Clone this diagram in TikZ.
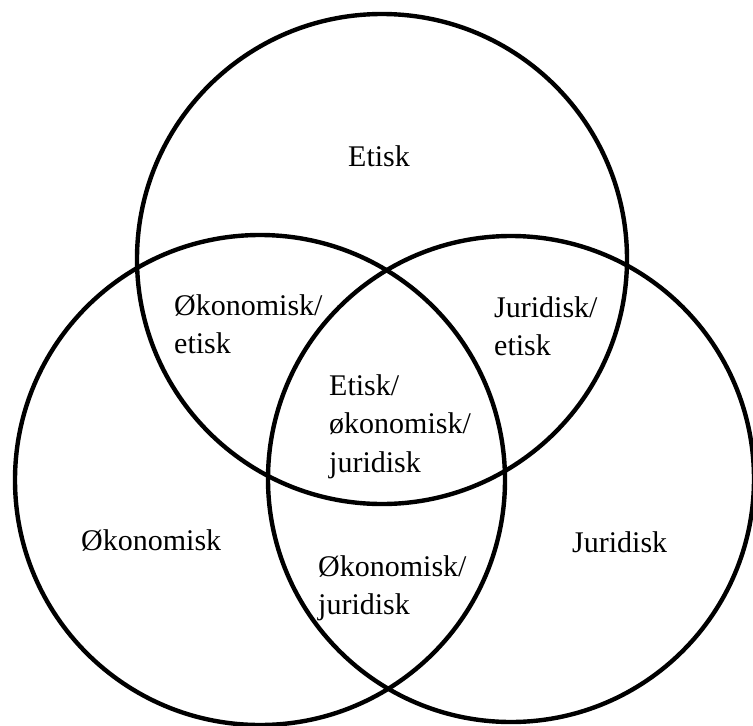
\documentclass[tikz,border=0pt]{standalone}
\usepackage{fontspec}
\setmainfont{Liberation Serif}
\begin{document}
\begin{tikzpicture}[x=1pt,y=-1pt,
  ring/.style={draw=black,line width=4.4pt},
  lbl/.style={inner sep=0pt,anchor=base west,font=\fontsize{30}{38.5}\selectfont}]
\useasboundingbox (0,0) rectangle (753,726);
\clip (0,0) rectangle (753,726);
\fill[white] (0,0) rectangle (753,726);
\node[ring,circle,minimum size=490pt,inner sep=0pt] (top) at (382,259) {};
\node[ring,circle,minimum size=490pt,inner sep=0pt] (left) at (260,480) {};
\node[ring,circle,minimum size=486pt,inner sep=0pt] (right) at (511,479) {};
\node[lbl] (etisk) at (348,166) {Etisk};
\node[lbl] (oe) at (174,315) {\begin{tabular}[t]{@{}l@{}}Økonomisk/\\etisk\end{tabular}};
\node[lbl] (je) at (494,317) {\begin{tabular}[t]{@{}l@{}}Juridisk/\\etisk\end{tabular}};
\node[lbl] (all) at (329,395) {\begin{tabular}[t]{@{}l@{}}Etisk/\\økonomisk/\\juridisk\end{tabular}};
\node[lbl] (oek) at (81,550) {Økonomisk};
\node[lbl] (oj) at (318,576) {\begin{tabular}[t]{@{}l@{}}Økonomisk/\\juridisk\end{tabular}};
\node[lbl] (jur) at (572,552) {Juridisk};
\end{tikzpicture}
\end{document}
